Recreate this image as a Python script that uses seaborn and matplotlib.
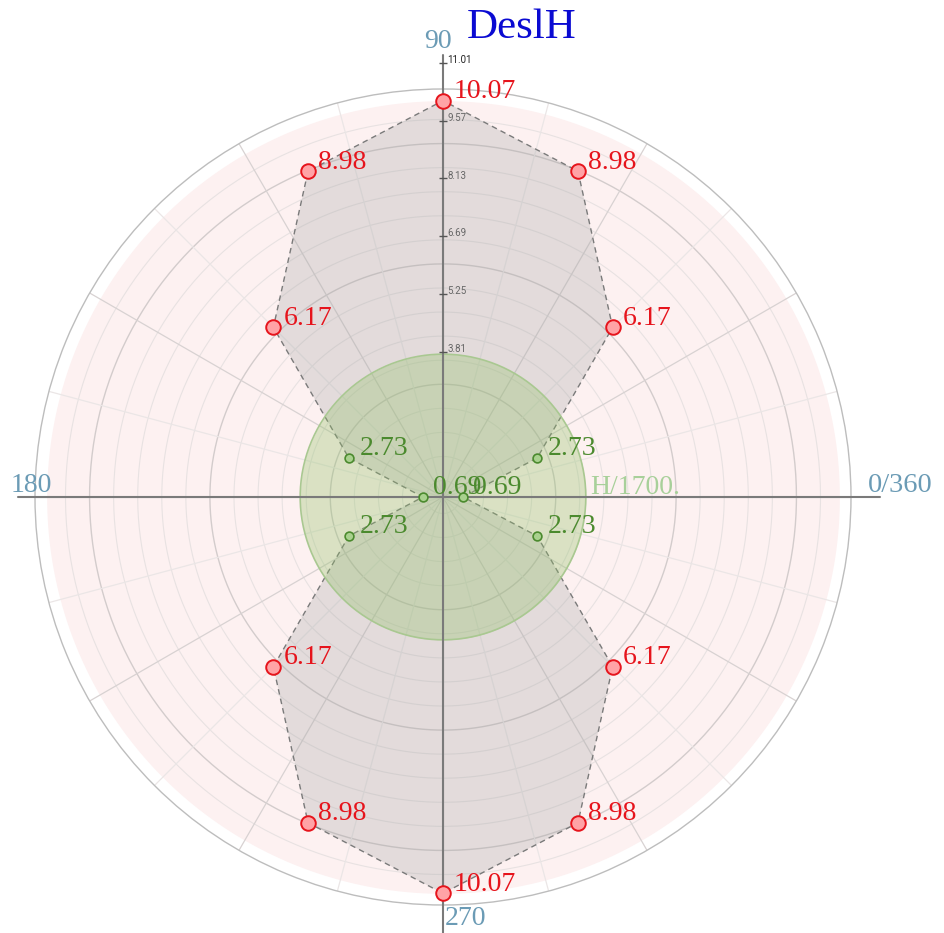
import numpy as np
import pandas as pd
import seaborn as sns
import matplotlib.pyplot as plt

# data
angles_deg = [0, 22.5, 45, 67.5, 90, 112.5, 135, 157.5,
              180, 202.5, 225, 247.5, 270, 292.5, 315, 337.5]
values = [0.69, 2.73, 6.17, 8.98, 10.07, 8.98, 6.17, 2.73,
          0.69, 2.73, 6.17, 8.98, 10.07, 8.98, 6.17, 2.73]
radial_ticks = [3.81, 5.25, 6.69, 8.13, 9.57, 11.01]
green_radius = 3.75
green_label = "H/1700."
title = "DeslH"

r_origin = 0.19
r_outer = 10.36

RED = "#e6141c"
GREEN = "#4b8a2e"
AXIS_BLUE = "#6b9bb5"

sns.set_style("white")
plt.rcParams["font.family"] = ["Liberation Serif", "DejaVu Serif"]

df = pd.DataFrame({"theta": np.deg2rad(angles_deg), "r": values})
df["zone"] = np.where(df["r"] > green_radius, "out", "in")

fig = plt.figure(figsize=(9.44, 9.33), dpi=100)
W, H = 944, 933
cx, cy, rad = 443, 497, 408
ax = fig.add_axes([(cx - rad) / W, (H - cy - rad) / H, 2 * rad / W, 2 * rad / H],
                  projection="polar")
ax.set_ylim(r_origin, r_outer)
ax.set_xticks([])
ax.set_yticks([])
ax.grid(False)
ax.spines["polar"].set_color("#bdbdbd")
ax.spines["polar"].set_linewidth(1.0)

tt = np.linspace(0, 2 * np.pi, 400)

# pink background disk
ax.fill_between(tt, r_origin, max(values), color="#fdf1f1", zorder=0, lw=0)

# grid circles
for r in np.arange(0.6, 9.7, 0.6):
    major = abs(r / 3 - round(r / 3)) < 1e-6
    ax.plot(tt, np.full_like(tt, r), color="#d3cccc" if major else "#e8e2e2",
            lw=1.0 if major else 0.8, zorder=1)
# spokes
for a in range(0, 360, 15):
    major = a % 30 == 0
    ax.plot([np.deg2rad(a)] * 2, [r_origin, r_outer],
            color="#d8d2d2" if major else "#ebe6e6", lw=0.9, zorder=1)

# gray polygon
th_closed = list(df["theta"]) + [df["theta"].iloc[0]]
r_closed = list(df["r"]) + [df["r"].iloc[0]]
ax.fill(th_closed, r_closed, color="#a2a2a2", alpha=0.28, lw=0, zorder=2)
ax.plot(th_closed, r_closed, color="#7a7a7a", lw=1.0, ls=(0, (4, 3)), zorder=3)

# green disk
ax.fill_between(tt, r_origin, green_radius, color="#93c268", alpha=0.33, lw=0, zorder=4)
ax.plot(tt, np.full_like(tt, green_radius), color="#a9c891", lw=1.2, zorder=4)

# axis cross
ax.plot([0, 0], [r_origin, 11.09], color="#7a7a7a", lw=1.5, zorder=5, clip_on=False)
ax.plot([np.pi, np.pi], [r_origin, 10.79], color="#7a7a7a", lw=1.5, zorder=5, clip_on=False)
ax.plot([np.pi / 2] * 2, [r_origin, 11.21], color="#7a7a7a", lw=1.5, zorder=5, clip_on=False)
ax.plot([3 * np.pi / 2] * 2, [r_origin, 11.6], color="#7a7a7a", lw=1.5, zorder=5, clip_on=False)

# radial ticks
for t in radial_ticks:
    ax.plot([np.pi / 2], [t], marker="_", ms=6, color="#555555", mew=1.0,
            zorder=6, clip_on=False)
    ax.annotate(f"{t:.2f}", (np.pi / 2, t), xytext=(3, -1.5), textcoords="offset points",
                ha="left", va="bottom", fontsize=7, family="Roboto",
                color="#222222" if t == radial_ticks[-1] else "#666666",
                annotation_clip=False, zorder=6)

# points
sns.scatterplot(data=df[df["zone"] == "out"], x="theta", y="r", ax=ax, s=110,
                color="#ffa3a6", edgecolor=RED, linewidth=1.4, zorder=7, legend=False)
sns.scatterplot(data=df[df["zone"] == "in"], x="theta", y="r", ax=ax, s=40,
                color="#a9d18e", edgecolor=GREEN, linewidth=1.2, zorder=7, legend=False)
ax.set_xlabel("")
ax.set_ylabel("")

for th, r, z in zip(df["theta"], df["r"], df["zone"]):
    ax.annotate(f"{r:.2f}", (th, r), xytext=(7.5, 6.5), textcoords="offset points",
                ha="left", va="center", fontsize=20, color=RED if z == "out" else GREEN,
                zorder=8)

ax.annotate(green_label, (0, green_radius), xytext=(3, 7), textcoords="offset points",
            ha="left", va="center", fontsize=20, color="#a8d09a", zorder=8)

# direction labels
ax.annotate("90", (np.pi / 2, 11.21), xytext=(-4, 1), textcoords="offset points",
            ha="center", va="bottom", fontsize=20, color=AXIS_BLUE, annotation_clip=False)
ax.annotate("180", (np.pi, 10.79), xytext=(-5, -1), textcoords="offset points",
            ha="left", va="bottom", fontsize=20, color=AXIS_BLUE, annotation_clip=False)
ax.annotate("0/360", (0, 11.09), xytext=(-9, -1), textcoords="offset points",
            ha="left", va="bottom", fontsize=20.5, color=AXIS_BLUE, annotation_clip=False)
ax.annotate("270", (3 * np.pi / 2, r_outer), xytext=(1, -1), textcoords="offset points",
            ha="left", va="top", fontsize=20, color=AXIS_BLUE, annotation_clip=False)

fig.text(467 / W, 1 - 28 / H, title, ha="left", va="center", fontsize=31, color="#0a0ad2")

fig.savefig("out.png", dpi=100)
